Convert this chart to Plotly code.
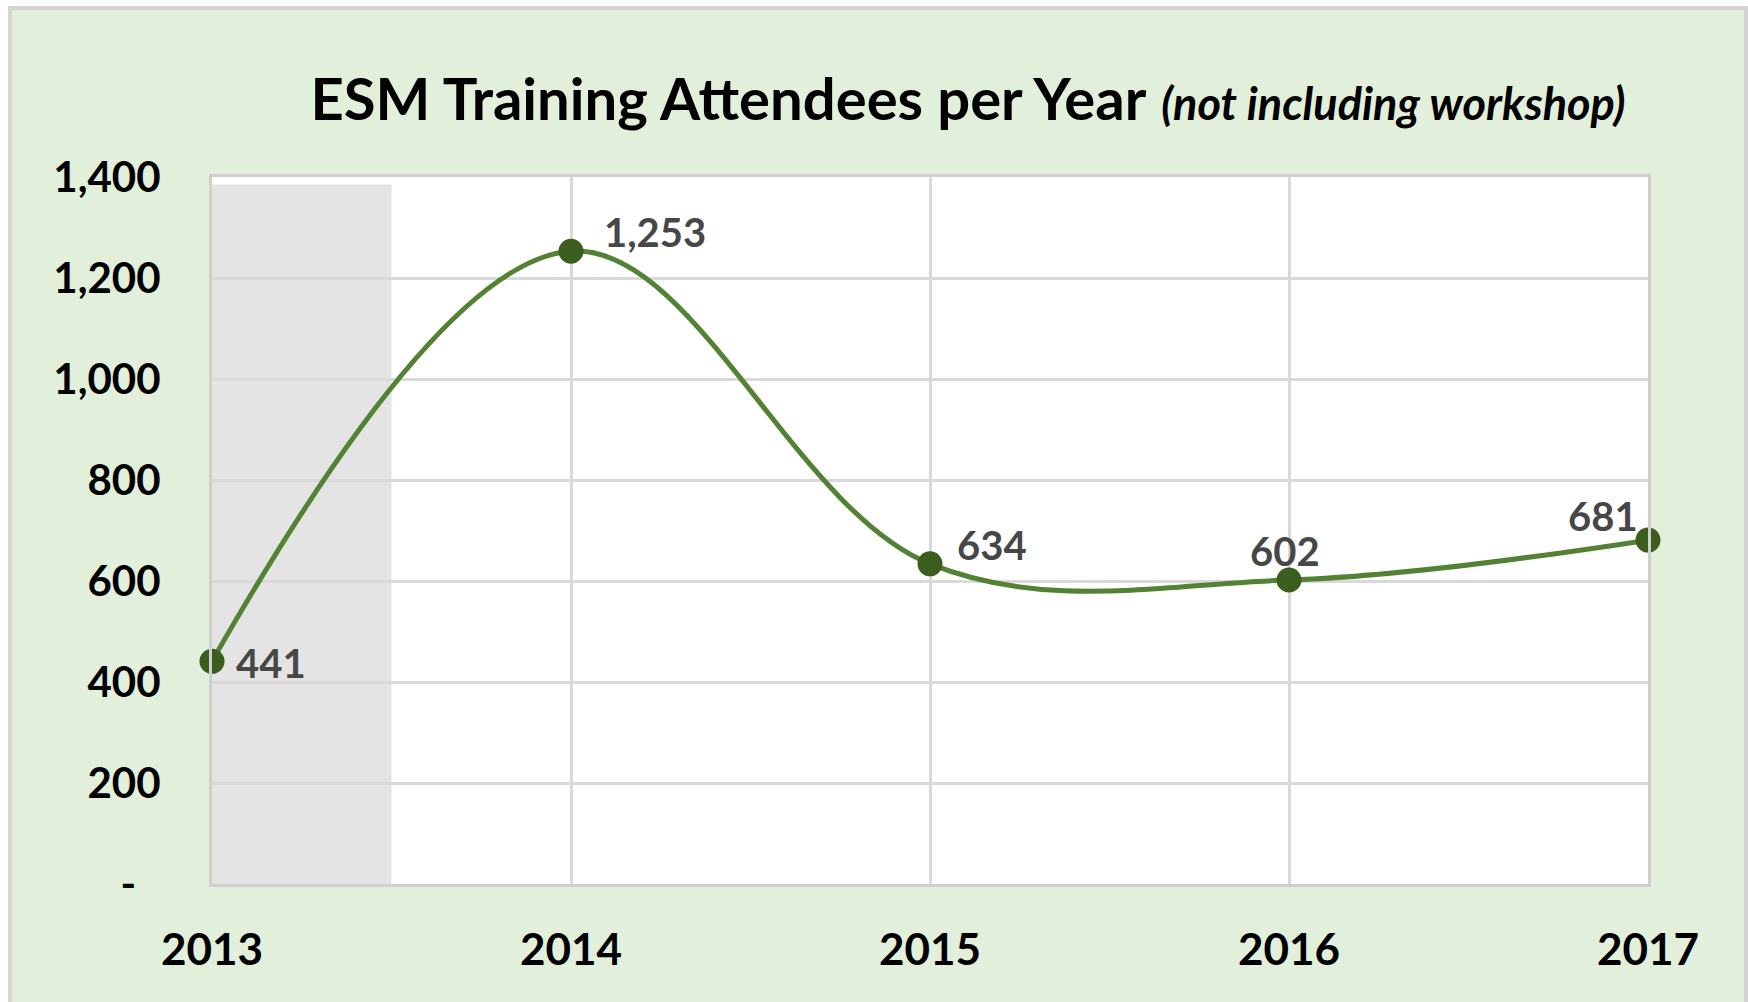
import plotly.graph_objects as go

years = [2013, 2014, 2015, 2016, 2017]
attendees = [441, 1253, 634, 602, 681]
y_tickvals = [0, 200, 400, 600, 800, 1000, 1200, 1400]
y_ticktext = ["-\u2007", "200", "400", "600", "800", "1,000", "1,200", "1,400"]
x_ticktext = ["2013", "2014", "2015", "2016", "2017"]
shaded_span = [2013, 2013.5]

W, H = 1748, 1002
L, R, T, B = 212, 100, 177, 118
pw, ph = W - L - R, H - T - B

def px_x(p):
    return (p - L) / pw

def px_y(p):
    return (H - B - p) / ph

FONT = "Lato"
line_green = "#548235"
marker_green = "#3B5E1F"

fig = go.Figure()
fig.add_trace(go.Scatter(
    x=years, y=attendees, mode="lines+markers",
    line=dict(shape="spline", smoothing=1.05, color=line_green, width=5),
    marker=dict(size=25, color=marker_green),
    cliponaxis=False, showlegend=False, hoverinfo="x+y",
))

# data labels: (xanchor, xshift, yanchor, yshift)
label_pos = [("left", 22, "middle", -2), ("left", 31, "middle", 19),
             ("left", 25, "middle", 19), ("center", -4, "middle", 29),
             ("right", -8, "middle", 24)]
annotations = []
for yr, v, (xa, xs, ya, ys) in zip(years, attendees, label_pos):
    annotations.append(dict(
        x=yr, y=v, xref="x", yref="y", text=f"{v:,}", showarrow=False,
        xanchor=xa, yanchor=ya, xshift=xs, yshift=ys,
        font=dict(family=FONT, size=40, color="#474747", weight="bold"),
    ))

frame = "#D4D4D4"
shapes = [
    dict(type="rect", xref="x", yref="y", x0=shaded_span[0], x1=shaded_span[1],
         y0=-12, y1=1385, fillcolor="#E4E4E4", line=dict(width=0), layer="below"),
    # white outer strips and light gray frame of the chart area
    dict(type="rect", xref="paper", yref="paper", x0=px_x(0), x1=px_x(W),
         y0=px_y(0), y1=px_y(6), fillcolor="white", line=dict(width=0), layer="above"),
    dict(type="rect", xref="paper", yref="paper", x0=px_x(0), x1=px_x(8),
         y0=px_y(0), y1=px_y(H), fillcolor="white", line=dict(width=0), layer="above"),
    dict(type="line", xref="paper", yref="paper", x0=px_x(8), x1=px_x(W),
         y0=px_y(8), y1=px_y(8), line=dict(color=frame, width=4), layer="above"),
    dict(type="line", xref="paper", yref="paper", x0=px_x(10), x1=px_x(10),
         y0=px_y(6), y1=px_y(H), line=dict(color=frame, width=4), layer="above"),
    dict(type="line", xref="paper", yref="paper", x0=px_x(1746), x1=px_x(1746),
         y0=px_y(6), y1=px_y(H), line=dict(color=frame, width=4), layer="above"),
]

fig.update_layout(
    width=W, height=H,
    margin=dict(l=L, r=R, t=T, b=B, autoexpand=False),
    paper_bgcolor="#E2EFDA", plot_bgcolor="white",
    title=dict(
        text="<b>ESM Training Attendees per Year</b> "
             "<span style='font-size:45px'><b><i>(not including workshop)</i></b></span>",
        x=968 / W, y=1 - 100 / H, xanchor="center", yanchor="middle",
        font=dict(family=FONT, size=58, color="black"),
    ),
    xaxis=dict(
        range=[2013, 2017], tickvals=years, ticktext=x_ticktext,
        showgrid=True, gridcolor="#D9D9D9", gridwidth=3,
        showline=True, linecolor="#CFCFCF", linewidth=3, mirror=True,
        ticks="", ticklabelstandoff=25, zeroline=False,
        tickfont=dict(family=FONT, size=44, color="black", weight="bold"),
    ),
    yaxis=dict(
        range=[0, 1400], tickvals=y_tickvals, ticktext=y_ticktext,
        showgrid=True, gridcolor="#D9D9D9", gridwidth=3,
        showline=True, linecolor="#CFCFCF", linewidth=3, mirror=True,
        ticks="", ticklabelstandoff=40, zeroline=False,
        tickfont=dict(family=FONT, size=42, color="black", weight="bold"),
    ),
    annotations=annotations,
    shapes=shapes,
)

fig.write_html(
    "out.html",
    config={"displayModeBar": False},
    post_script="document.body.style.margin='0';document.body.style.overflow='hidden';",
)
